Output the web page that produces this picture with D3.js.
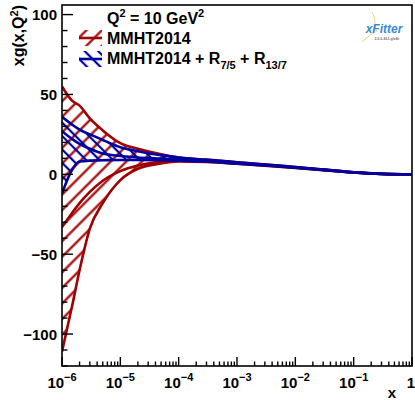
<!DOCTYPE html>
<html>
<head>
<meta charset="utf-8">
<script src="https://cdn.jsdelivr.net/npm/d3@7"></script>
<style>
  body { margin: 0; background: #fff; }
  text { font-family: "Liberation Sans", Arial, sans-serif; font-weight: bold; }
</style>
</head>
<body>
<div id="chart"></div>
<script>
// x grid and gluon bands
var xs      = [1e-6, 1.5e-6, 2e-6, 3e-6, 5e-6, 1e-5, 2e-5, 5e-5, 1e-4, 3e-4, 1e-3, 3e-3, 1e-2, 3e-2, 0.1, 0.3, 1];
var mmhtUp  = [55, 46, 43, 35, 27.5, 19.5, 16, 12.5, 10.5, 9.1, 7.6, 6.1, 4.6, 3.0, 1.3, 0.4, 0];
var mmhtCen = [-33, -24, -18, -11, -4, 2, 5.5, 8, 9, 8.4, 7.1, 5.8, 4.3, 2.8, 1.2, 0.3, 0];
var mmhtLow = [-111, -82, -60, -34, -18, -3.6, 3.5, 6.8, 8, 7.8, 6.6, 5.4, 4.0, 2.6, 1.1, 0.2, 0];
var ratUp   = [36, 31, 28, 25, 21.5, 17, 14.5, 12, 10.5, 9.2, 7.6, 6.1, 4.6, 3.0, 1.3, 0.4, 0];
var ratCen  = [27, 22, 19, 16, 13, 11.5, 10.5, 9.8, 9.3, 8.5, 7.1, 5.8, 4.3, 2.8, 1.2, 0.3, 0];
var ratLow  = [-12, 3, 8, 8.6, 8.8, 9, 9, 8.8, 8.6, 8, 6.7, 5.5, 4.1, 2.7, 1.1, 0.2, 0];

var xTicks = [1e-6, 1e-5, 1e-4, 1e-3, 1e-2, 1e-1, 1];
var xTickExp = ["−6", "−5", "−4", "−3", "−2", "−1", ""];
var yTicks = [-100, -50, 0, 50, 100];

var RED = "#a00000", BLUE = "#0000a0";
var W = 415, H = 400;
var L = 62, R = 412, T = 5, B = 366;

var svg = d3.select("#chart").append("svg")
  .attr("width", W).attr("height", H)
  .attr("xmlns", "http://www.w3.org/2000/svg");

var x = d3.scaleLog().domain([1e-6, 1]).range([L, R]);
var y = d3.scaleLinear().domain([-120, 106]).range([B, T]);

var defs = svg.append("defs");
defs.append("clipPath").attr("id", "plotclip")
  .append("rect").attr("x", L).attr("y", T).attr("width", R - L).attr("height", B - T);

function hatch(id, color, angle, gap) {
  var p = defs.append("pattern").attr("id", id)
    .attr("patternUnits", "userSpaceOnUse")
    .attr("width", gap).attr("height", gap)
    .attr("patternTransform", "rotate(" + angle + ")");
  p.append("line").attr("x1", gap / 2).attr("x2", gap / 2)
    .attr("y1", -1).attr("y2", gap + 1)
    .attr("stroke", color).attr("stroke-width", 2.2);
}
hatch("hRed", RED, 45, 11);
hatch("hBlue", BLUE, -45, 9.5);

var pts = function(arr) { return xs.map(function(v, i) { return { x: v, v: arr[i] }; }); };

var area = function(up, low) {
  return d3.area()
    .x(function(d) { return x(d.x); })
    .y0(function(d, i) { return y(low[i]); })
    .y1(function(d, i) { return y(up[i]); })
    .curve(d3.curveMonotoneX);
};
var line = d3.line()
  .x(function(d) { return x(d.x); })
  .y(function(d) { return y(d.v); })
  .curve(d3.curveMonotoneX);

var plot = svg.append("g").attr("clip-path", "url(#plotclip)");

function band(up, cen, low, color, pat) {
  plot.append("path").datum(pts(up))
    .attr("d", area(up, low)).attr("fill", "url(#" + pat + ")");
  [up, cen, low].forEach(function(arr) {
    plot.append("path").datum(pts(arr))
      .attr("d", line).attr("fill", "none")
      .attr("stroke", color).attr("stroke-width", 2.6);
  });
}
band(mmhtUp, mmhtCen, mmhtLow, RED, "hRed");
band(ratUp, ratCen, ratLow, BLUE, "hBlue");

// frame
svg.append("rect").attr("x", L).attr("y", T).attr("width", R - L).attr("height", B - T)
  .attr("fill", "none").attr("stroke", "#000").attr("stroke-width", 1.6);

// y axis ticks
var yg = svg.append("g");
d3.range(-120, 101, 10).forEach(function(v) {
  var major = v % 50 === 0;
  yg.append("line").attr("x1", L).attr("x2", L + (major ? 11 : 5.5))
    .attr("y1", y(v)).attr("y2", y(v)).attr("stroke", "#000").attr("stroke-width", 1.4);
});
yg.selectAll("text.yl").data(yTicks).enter().append("text")
  .attr("x", L - 5).attr("y", function(d) { return y(d) + 5.5; })
  .attr("text-anchor", "end").attr("font-size", 15)
  .text(function(d) { return d < 0 ? "−" + Math.abs(d) : d; });

// x axis ticks
var xg = svg.append("g");
for (var e = -6; e < 0; e++) {
  for (var k = 1; k < 10; k++) {
    var v = k * Math.pow(10, e);
    xg.append("line").attr("x1", x(v)).attr("x2", x(v))
      .attr("y1", B).attr("y2", B - (k === 1 ? 9 : 4.5))
      .attr("stroke", "#000").attr("stroke-width", 1.4);
  }
}
xg.append("line").attr("x1", x(1)).attr("x2", x(1)).attr("y1", B).attr("y2", B - 9)
  .attr("stroke", "#000").attr("stroke-width", 1.4);
xTicks.forEach(function(v, i) {
  var t = xg.append("text").attr("x", x(v) + (i === xTicks.length - 1 ? -1 : 0)).attr("y", 388)
    .attr("text-anchor", "middle").attr("font-size", 15);
  if (xTickExp[i]) {
    t.append("tspan").text("10");
    t.append("tspan").attr("dy", -7).attr("font-size", 11).text(xTickExp[i]);
  } else {
    t.text("1");
  }
});

// axis titles
svg.append("text").attr("x", 392).attr("y", 398).attr("text-anchor", "middle")
  .attr("font-size", 15).text("x");
var yt = svg.append("text").attr("transform", "translate(24,5) rotate(-90)")
  .attr("text-anchor", "end").attr("font-size", 16);
yt.append("tspan").text("xg(x,Q");
yt.append("tspan").attr("dy", -6).attr("font-size", 11).text("2");
yt.append("tspan").attr("dy", 6).text(")");

// legend
var lg = svg.append("g");
var q = lg.append("text").attr("x", 107).attr("y", 24).attr("font-size", 16);
q.append("tspan").text("Q");
q.append("tspan").attr("dy", -7).attr("font-size", 11).text("2");
q.append("tspan").attr("dy", 7).text(" = 10 GeV");
q.append("tspan").attr("dy", -7).attr("font-size", 11).text("2");

function swatch(yc, color, pat) {
  lg.append("rect").attr("x", 79).attr("y", yc - 8).attr("width", 23).attr("height", 16)
    .attr("fill", "url(#" + pat + ")");
  lg.append("line").attr("x1", 79).attr("x2", 102).attr("y1", yc).attr("y2", yc)
    .attr("stroke", color).attr("stroke-width", 2.6);
}
swatch(38, RED, "hRed");
swatch(59, BLUE, "hBlue");

lg.append("text").attr("x", 107).attr("y", 44).attr("font-size", 16).text("MMHT2014");
var t2 = lg.append("text").attr("x", 107).attr("y", 64).attr("font-size", 16);
t2.append("tspan").text("MMHT2014 + R");
t2.append("tspan").attr("dy", 5).attr("font-size", 11).text("7/5");
t2.append("tspan").attr("dy", -5).text(" + R");
t2.append("tspan").attr("dy", 5).attr("font-size", 11).text("13/7");

// xFitter logo
var logo = svg.append("g");
logo.append("path").attr("d", "M372,12 C376,18 374,26 377,32 M376,30 C370,36 366,38 362,42")
  .attr("fill", "none").attr("stroke", "#f2c060").attr("stroke-width", 0.8);
logo.append("text").attr("x", 384).attr("y", 33).attr("text-anchor", "middle")
  .attr("font-size", 12).attr("font-weight", "normal").attr("font-style", "italic")
  .attr("fill", "#3a8ad0").text("xFitter");
logo.append("text").attr("x", 387).attr("y", 40).attr("text-anchor", "middle")
  .attr("font-size", 3.5).attr("font-weight", "normal").attr("fill", "#777")
  .text("2.0.0-433-gfa8e");
</script>
</body>
</html>
